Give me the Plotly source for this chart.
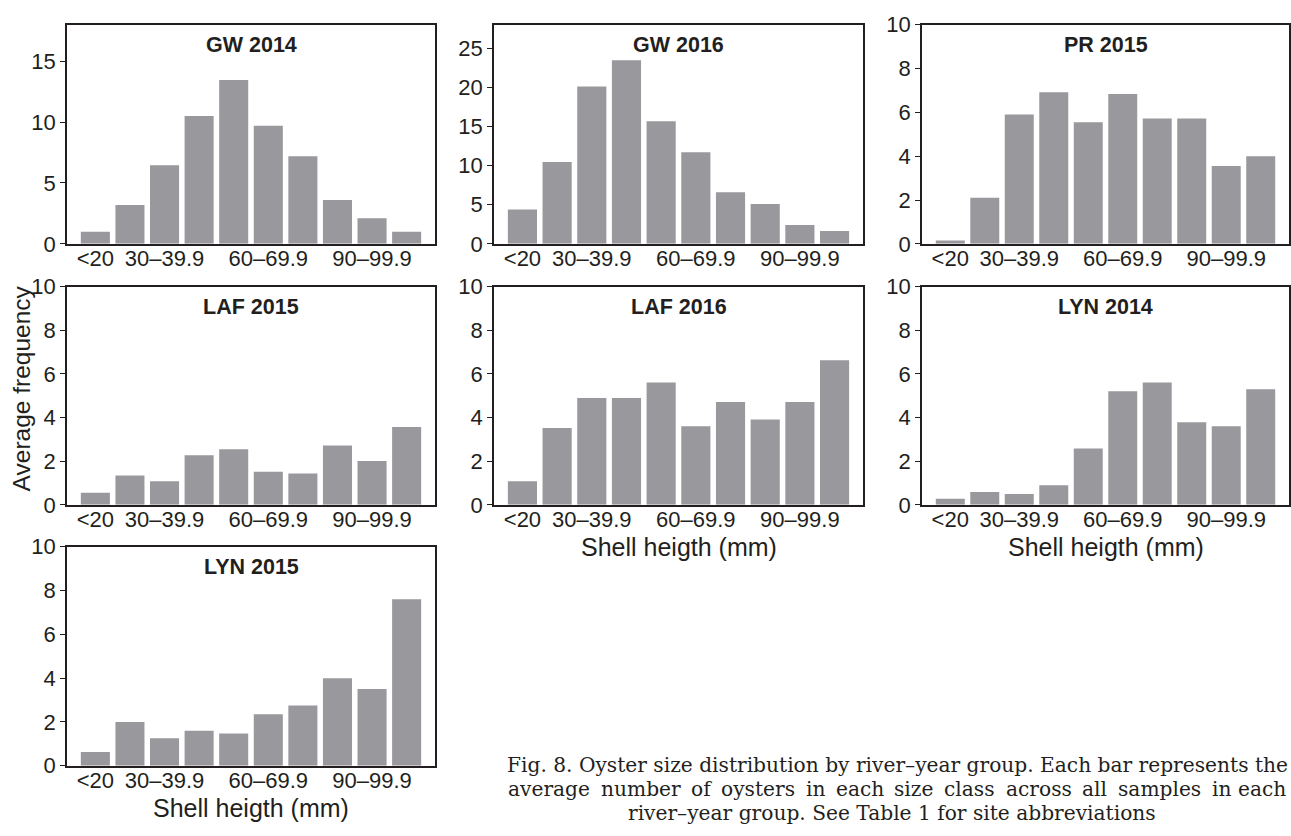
import plotly.graph_objects as go

# Shell-height size classes (mm)
size_classes = ["<20", "20–29.9", "30–39.9", "40–49.9", "50–59.9",
                "60–69.9", "70–79.9", "80–89.9", "90–99.9", "≥100"]
shown_classes = ["<20", "30–39.9", "60–69.9", "90–99.9"]

# Average frequency per size class for each river–year group
gw_2014 = [1.0, 3.2, 6.45, 10.5, 13.45, 9.7, 7.2, 3.6, 2.1, 1.0]
gw_2016 = [4.4, 10.45, 20.1, 23.45, 15.65, 11.7, 6.6, 5.1, 2.4, 1.65]
pr_2015 = [0.15, 2.1, 5.9, 6.92, 5.55, 6.83, 5.72, 5.72, 3.55, 4.0]
laf_2015 = [0.55, 1.34, 1.08, 2.27, 2.54, 1.52, 1.43, 2.72, 2.01, 3.56]
laf_2016 = [1.08, 3.52, 4.89, 4.89, 5.6, 3.6, 4.71, 3.91, 4.71, 6.62]
lyn_2014 = [0.28, 0.59, 0.5, 0.9, 2.58, 5.2, 5.6, 3.78, 3.6, 5.29]
lyn_2015 = [0.63, 2.0, 1.25, 1.6, 1.47, 2.35, 2.75, 3.99, 3.5, 7.6]

group_names = ["GW 2014", "GW 2016", "PR 2015", "LAF 2015", "LAF 2016", "LYN 2014", "LYN 2015"]
group_values = [gw_2014, gw_2016, pr_2015, laf_2015, laf_2016, lyn_2014, lyn_2015]
y_max = [18, 28, 10, 10, 10, 10, 10]
y_step = [5, 5, 2, 2, 2, 2, 2]

y_title = "Average frequency"
x_title = "Shell heigth (mm)"
caption_1 = "Fig. 8. Oyster size distribution by river–year group. Each bar represents the"
caption_2 = "average number of oysters in each size class across all samples in each"
caption_3 = "river–year group. See Table 1 for site abbreviations"

W, H = 1291, 836
INK = "#231f20"
BAR = "#99989d"
SANS = "Liberation Sans, Arial, Helvetica, sans-serif"
SERIF = "DejaVu Serif, serif"
TICK_SIZE = 22

# Panel frames in pixels: columns (left, right) and rows (top, bottom)
cols_px = [(67, 435), (494, 863), (922, 1289)]
rows_px = [(13, 239), (283, 508), (551, 777)]
cells = [(0, 0), (0, 1), (0, 2), (1, 0), (1, 1), (1, 2), (2, 0)]


def px_x(x):
    return x / W


def px_y(y):
    return 1 - y / H


fig = go.Figure()
annotations = []

for i, (name, vals, ymax, step) in enumerate(zip(group_names, group_values, y_max, y_step)):
    r, c = cells[i]
    (x0, x1), (y0, y1) = cols_px[c], rows_px[r]
    k = "" if i == 0 else str(i + 1)
    fig.add_trace(go.Bar(
        x=size_classes, y=vals, xaxis="x" + k, yaxis="y" + k,
        marker=dict(color=BAR, line=dict(width=0)), showlegend=False,
    ))
    fig.layout["xaxis" + k] = dict(
        domain=[px_x(x0), px_x(x1)], anchor="y" + k, type="category",
        categoryorder="array", categoryarray=size_classes,
        range=[-0.82, 9.82], tickmode="array", tickvals=shown_classes,
        ticktext=shown_classes, ticks="", ticklabelstandoff=-6,
        showgrid=False, zeroline=False,
        showline=True, mirror=True, linecolor=INK, linewidth=1.6,
        tickfont=dict(family=SANS, size=TICK_SIZE, color=INK), fixedrange=True,
    )
    fig.layout["yaxis" + k] = dict(
        domain=[px_y(y1), px_y(y0)], anchor="x" + k, range=[0, ymax],
        tickmode="linear", tick0=0, dtick=step, ticks="outside", ticklen=5,
        tickwidth=1.2, tickcolor=INK, showgrid=False, zeroline=False,
        showline=True, mirror=True, linecolor=INK, linewidth=1.6,
        tickfont=dict(family=SANS, size=TICK_SIZE, color=INK), fixedrange=True,
    )
    # Group label inside the top of each panel
    annotations.append(dict(
        text="<b>%s</b>" % name, xref="paper", yref="paper",
        x=px_x((x0 + x1) / 2), y=px_y(y0 + 21), xanchor="center", yanchor="middle",
        showarrow=False, font=dict(family=SANS, size=21.5, color=INK),
    ))

# Shared axis titles
annotations.append(dict(
    text=y_title, xref="paper", yref="paper", x=px_x(21), y=px_y(388),
    xanchor="center", yanchor="middle", textangle=-90, showarrow=False,
    font=dict(family=SANS, size=24.5, color=INK),
))
for (c, ypix) in [(1, 552), (2, 552), (0, 821)]:
    x0, x1 = cols_px[c]
    annotations.append(dict(
        text=x_title, xref="paper", yref="paper", x=px_x((x0 + x1) / 2), y=px_y(ypix),
        xanchor="center", yanchor="middle", showarrow=False,
        font=dict(family=SANS, size=25, color=INK),
    ))

# Figure caption; the middle line is justified word by word
CAP_SIZE = 20.2
CAP_LEFT, CAP_RIGHT = 506, 1288
glyph_em = {
    "a": .596, "b": .641, "c": .562, "d": .641, "e": .592, "f": .371, "g": .641,
    "h": .642, "i": .321, "l": .321, "m": .952, "n": .642, "o": .602, "p": .641,
    "r": .478, "s": .521, "t": .402, "u": .642, "v": .577, "y": .577, "z": .525,
}


def word_width(word):
    return sum(glyph_em.get(ch, 0.6) for ch in word) * CAP_SIZE


annotations.append(dict(
    text=caption_1, xref="paper", yref="paper", x=px_x((CAP_LEFT + CAP_RIGHT) / 2),
    y=px_y(776), xanchor="center", yanchor="middle", showarrow=False,
    font=dict(family=SERIF, size=CAP_SIZE, color=INK),
))
words = caption_2.split()
widths = [word_width(w) for w in words]
gap = (CAP_RIGHT - CAP_LEFT - sum(widths)) / (len(words) - 1)
xpos = CAP_LEFT
for j, (w, wd) in enumerate(zip(words, widths)):
    last = j == len(words) - 1
    annotations.append(dict(
        text=w, xref="paper", yref="paper",
        x=px_x(CAP_RIGHT if last else xpos), y=px_y(801),
        xanchor="right" if last else "left", yanchor="middle", showarrow=False,
        font=dict(family=SERIF, size=CAP_SIZE, color=INK),
    ))
    xpos += wd + gap
annotations.append(dict(
    text=caption_3, xref="paper", yref="paper", x=px_x(892),
    y=px_y(826), xanchor="center", yanchor="middle", showarrow=False,
    font=dict(family=SERIF, size=CAP_SIZE, color=INK),
))

fig.update_layout(
    width=W, height=H, margin=dict(l=0, r=0, t=0, b=0, pad=0),
    paper_bgcolor="white", plot_bgcolor="white", bargap=0.16,
    annotations=annotations, showlegend=False,
)

fig.write_html("out.html", config={"displayModeBar": False})
